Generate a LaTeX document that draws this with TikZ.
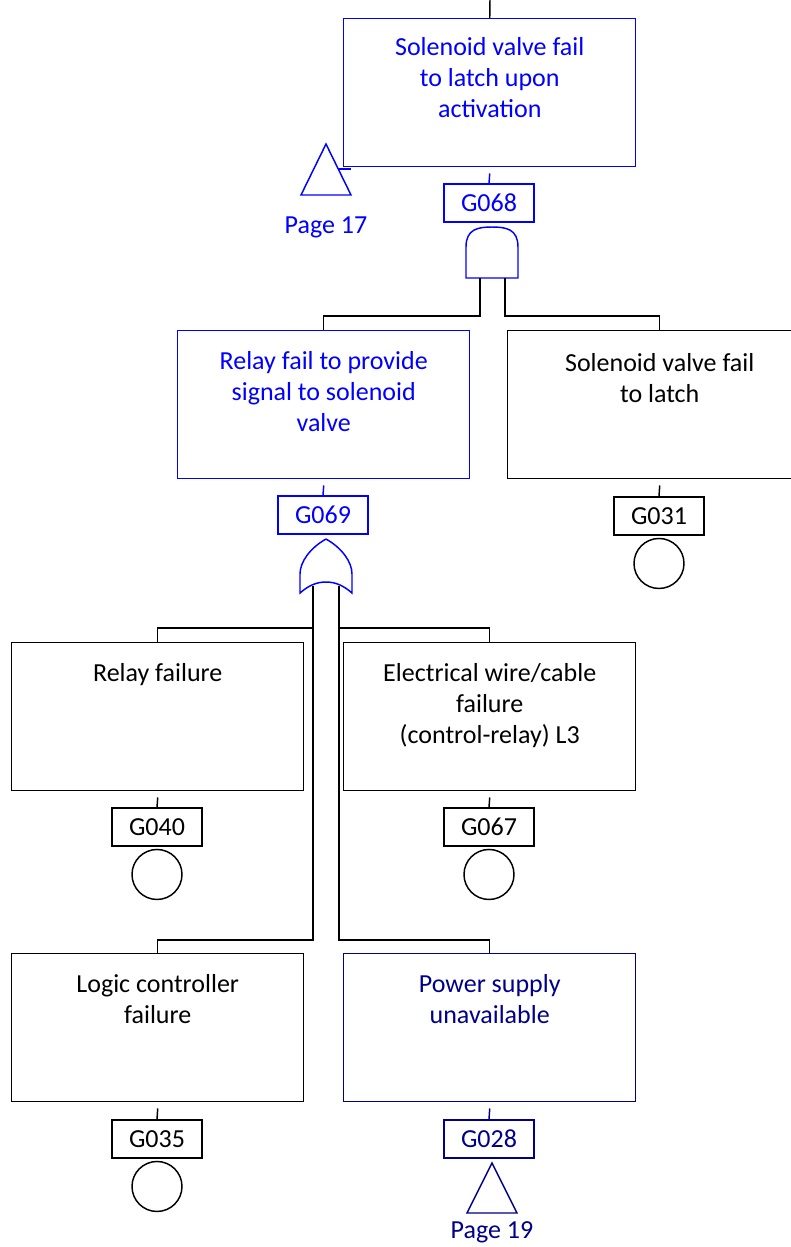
\documentclass[tikz,border=0pt]{standalone}
\usepackage{fontspec}
\setmainfont{Carlito}
\definecolor{evblue}{RGB}{0,0,255}
\definecolor{evnavy}{RGB}{0,0,139}

\begin{document}
\begin{tikzpicture}[x=0.75pt,y=-0.75pt,
  wire/.style={line width=1.1pt},
  evbox/.style={draw, wire, minimum width=219pt, minimum height=111pt, inner sep=0pt, anchor=north west},
  evtext/.style={align=center, anchor=north, inner sep=0pt, font=\fontsize{19.5}{23.25}\selectfont},
  gid/.style={draw, wire, minimum width=67.5pt, minimum height=28.5pt, inner sep=0pt, font=\fontsize{19.5}{23.25}\selectfont},
  basic/.style={draw, wire, circle, minimum size=37.5pt, inner sep=0pt, anchor=north}]
\useasboundingbox (0,0) rectangle (791,1247);
\clip (0,0) rectangle (791,1247);

% top event
\coordinate (topin) at (490,0);
\node[evbox, evblue] (top) at (343,18) {};
\node[evtext, evblue] (toptxt) at ([yshift=-12pt]top.north) {\strut Solenoid valve fail\\to latch upon\\activation};
\node[gid, evblue] (g068) at (489,203) {G068};
\draw[wire] (topin) -- (top.north);
\draw[wire, evblue] ([yshift=-4.5pt]top.south) -- (g068.north);

% transfer out, page 17
\coordinate (tr17) at (326,144);
\draw[wire, evblue] (tr17) -- ++(-25,51) -- ++(50,0) -- cycle;
\draw[wire, evblue] (338,169) -- (351,169);
\node[evtext, evblue, anchor=center] (pg17) at (326,227) {Page 17};

% AND gate
\draw[wire, evblue] (466,278) -- (466,247) .. controls (466,229) and (478,227) .. (492,227)
  .. controls (506,227) and (518,229) .. (518,247) -- (518,278) -- cycle;
\coordinate (andL) at (480,278);
\coordinate (andR) at (505,278);

% second level
\node[evbox, evblue] (relay) at (177,330) {};
\node[evtext, evblue] (relaytxt) at ([yshift=-13pt]relay.north) {\strut Relay fail to provide\\signal to solenoid\\valve};
\node[evbox, minimum width=228pt] (sv) at (507,330) {};
\node[evtext] (svtxt) at ([yshift=-15pt]sv.north) {\strut Solenoid valve fail\\to latch};
\draw[wire] (andL) -- ++(0,38) -| (relay.north);
\draw[wire] (andR) -- ++(0,38) -| (sv.north);

\node[gid] (g031) at (659,516) {G031};
\node[basic] (b031) at ([yshift=-1.5pt]g031.south) {};
\draw[wire] ([yshift=-4.5pt]sv.south) -- (g031.north);

\node[gid, evblue] (g069) at (323,515) {G069};
\draw[wire, evblue] ([yshift=-4.5pt]relay.south) -- (g069.north);

% OR gate
\draw[wire, evblue] (326,539) .. controls (310,548) and (300,562) .. (300,574) -- (300,593)
  .. controls (308,586) and (316,582) .. (326,582) .. controls (336,582) and (344,586) .. (352,593)
  -- (352,574) .. controls (352,562) and (342,548) .. (326,539);
\coordinate (orL) at (313,586);
\coordinate (orR) at (339,586);

% third level
\node[evbox] (rfail) at (11,642) {};
\node[evtext] (rfailtxt) at ([yshift=-13pt]rfail.north) {\strut Relay failure};
\node[evbox] (cable) at (343,642) {};
\node[evtext] (cabletxt) at ([yshift=-13pt]cable.north) {\strut Electrical wire/cable\\failure\\(control-relay) L3};
\draw[wire] (orL) -- ++(0,42) -| (rfail.north);
\draw[wire] (orR) -- ++(0,42) -| (cable.north);

\node[gid] (g040) at (157,827) {G040};
\node[basic] (b040) at ([yshift=-1.5pt]g040.south) {};
\draw[wire] ([yshift=-4.5pt]rfail.south) -- (g040.north);
\node[gid] (g067) at (489,827) {G067};
\node[basic] (b067) at ([yshift=-1.5pt]g067.south) {};
\draw[wire] ([yshift=-4.5pt]cable.south) -- (g067.north);

% fourth level
\node[evbox] (logic) at (11,953) {};
\node[evtext] (logictxt) at ([yshift=-13pt]logic.north) {\strut Logic controller\\failure};
\node[evbox, evnavy] (psu) at (343,953) {};
\node[evtext, evnavy] (psutxt) at ([yshift=-13pt]psu.north) {\strut Power supply\\unavailable};
\draw[wire] (orL) -- ++(0,354) -| (logic.north);
\draw[wire] (orR) -- ++(0,354) -| (psu.north);

\node[gid] (g035) at (157,1139) {G035};
\node[basic] (b035) at ([yshift=-1.5pt]g035.south) {};
\draw[wire] ([yshift=-4.5pt]logic.south) -- (g035.north);
\node[gid, evnavy] (g028) at (489,1139) {G028};
\draw[wire, evnavy] ([yshift=-4.5pt]psu.south) -- (g028.north);

% transfer in, page 19
\coordinate (tr19) at (492,1163);
\draw[wire, evnavy] (tr19) -- ++(-25,50) -- ++(50,0) -- cycle;
\node[evtext, evnavy, anchor=center] (pg19) at (492,1232) {Page 19};
\end{tikzpicture}
\end{document}
